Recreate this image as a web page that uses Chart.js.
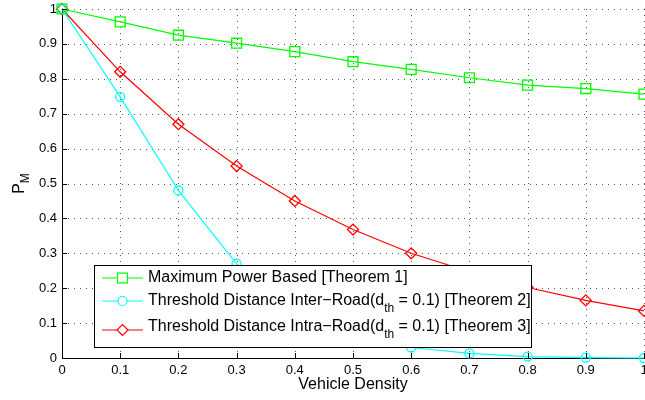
<!DOCTYPE html>
<html>
<head>
<meta charset="utf-8">
<script src="https://cdn.jsdelivr.net/npm/chart.js@4.4.0/dist/chart.umd.min.js"></script>
<style>
  html, body { margin: 0; padding: 0; background: #fff; }
  #wrap { width: 645px; height: 400px; position: relative; }
</style>
</head>
<body>
<div id="wrap"><canvas id="chart"></canvas></div>
<script>
const densities = [0, 0.1, 0.2, 0.3, 0.4, 0.5, 0.6, 0.7, 0.8, 0.9, 1];
const maxPower = [1, 0.963, 0.925, 0.902, 0.878, 0.849, 0.827, 0.803, 0.782, 0.772, 0.756];
const interRoad = [1, 0.748, 0.48, 0.27, 0.14, 0.068, 0.03, 0.013, 0.004, 0.001, 0];
const intraRoad = [1, 0.82, 0.67, 0.55, 0.45, 0.368, 0.30, 0.247, 0.202, 0.165, 0.135];
const legendLabels = [
  ['Maximum Power Based [Theorem 1]'],
  ['Threshold Distance Inter\u2212Road(d', 'th', ' = 0.1) [Theorem 2]'],
  ['Threshold Distance Intra\u2212Road(d', 'th', ' = 0.1) [Theorem 3]']
];

const FONT = '"Liberation Sans", Arial, Helvetica, sans-serif';

function series(values) {
  return values.map((v, i) => ({ x: densities[i], y: v }));
}

// dotted MATLAB grid under the data
const dottedGrid = {
  id: 'dottedGrid',
  beforeDatasetsDraw(chart) {
    const { ctx, chartArea: a, scales } = chart;
    ctx.save();
    ctx.strokeStyle = 'rgba(0,0,0,0.65)';
    ctx.lineWidth = 1;
    ctx.setLineDash([1, 5]);
    ctx.beginPath();
    scales.x.ticks.forEach(t => {
      if (t.value === 0) return;
      const px = Math.round(scales.x.getPixelForValue(t.value)) + 0.5;
      ctx.moveTo(px, a.bottom);
      ctx.lineTo(px, a.top);
    });
    scales.y.ticks.forEach(t => {
      if (t.value === 0) return;
      const py = Math.round(scales.y.getPixelForValue(t.value)) + 0.5;
      ctx.moveTo(a.left, py);
      ctx.lineTo(a.right + 2, py);
    });
    ctx.stroke();
    ctx.restore();
  }
};

// MATLAB-like extras: inward ticks, P_M label, legend with subscripts
const matlabExtras = {
  id: 'matlabExtras',
  afterDraw(chart) {
    const { ctx, chartArea: a, scales } = chart;
    ctx.save();
    ctx.strokeStyle = '#000';
    ctx.lineWidth = 1;
    ctx.beginPath();
    scales.x.ticks.forEach(t => {
      const px = Math.round(scales.x.getPixelForValue(t.value)) + 0.5;
      ctx.moveTo(px, a.bottom);
      ctx.lineTo(px, a.bottom - 5);
    });
    scales.y.ticks.forEach(t => {
      const py = Math.round(scales.y.getPixelForValue(t.value)) + 0.5;
      ctx.moveTo(a.left, py);
      ctx.lineTo(a.left + 5, py);
    });
    ctx.stroke();

    // y title P_M
    ctx.fillStyle = '#000';
    ctx.translate(24, (a.top + a.bottom) / 2);
    ctx.rotate(-Math.PI / 2);
    ctx.font = '16px ' + FONT;
    ctx.textBaseline = 'alphabetic';
    ctx.textAlign = 'left';
    const pw = ctx.measureText('P').width;
    ctx.font = '12px ' + FONT;
    const mw = ctx.measureText('M').width;
    const start = -(pw + mw) / 2;
    ctx.font = '16px ' + FONT;
    ctx.fillText('P', start, 0);
    ctx.font = '12px ' + FONT;
    ctx.fillText('M', start + pw, 5);
    ctx.restore();

    // legend box
    ctx.save();
    const bx = 94.5, by = 265.5, bw = 437, bh = 82;
    ctx.fillStyle = '#fff';
    ctx.fillRect(bx, by, bw, bh);
    ctx.strokeStyle = '#000';
    ctx.lineWidth = 1;
    ctx.strokeRect(bx, by, bw, bh);
    const rows = [278, 301, 330];
    chart.data.datasets.forEach((ds, i) => {
      const y = rows[i];
      ctx.strokeStyle = ds.borderColor;
      ctx.lineWidth = 1.2;
      ctx.beginPath();
      ctx.moveTo(102, y);
      ctx.lineTo(143, y);
      ctx.stroke();
      ctx.fillStyle = '#fff';
      Chart.helpers.drawPoint(ctx, {
        pointStyle: ds.pointStyle, radius: ds.pointRadius, borderWidth: 1.2
      }, 122.5, y);
      ctx.fillStyle = '#000';
      ctx.textBaseline = 'middle';
      ctx.textAlign = 'left';
      let tx = 148;
      const parts = legendLabels[i];
      const ty = i === 2 ? y - 3 : y;
      parts.forEach((p, k) => {
        if (k === 1) {
          ctx.font = '12px ' + FONT;
          ctx.fillText(p, tx, ty + 8);
        } else {
          ctx.font = '16px ' + FONT;
          ctx.fillText(p, tx, ty);
        }
        tx += ctx.measureText(p).width;
      });
    });
    ctx.restore();
  }
};

new Chart(document.getElementById('chart'), {
  type: 'line',
  data: {
    datasets: [{
      label: 'Maximum Power Based [Theorem 1]',
      data: series(maxPower),
      borderColor: '#00ff00',
      pointStyle: 'rect',
      pointRadius: 7
    }, {
      label: 'Threshold Distance Inter-Road(dth = 0.1) [Theorem 2]',
      data: series(interRoad),
      borderColor: '#00ffff',
      pointStyle: 'circle',
      pointRadius: 4.5
    }, {
      label: 'Threshold Distance Intra-Road(dth = 0.1) [Theorem 3]',
      data: series(intraRoad),
      borderColor: '#ff0000',
      pointStyle: 'rectRot',
      pointRadius: 5.5
    }].map(ds => Object.assign(ds, {
      backgroundColor: 'rgba(0,0,0,0)',
      borderWidth: 1.2,
      pointBorderWidth: 1.3,
      pointBorderColor: ds.borderColor,
      pointBackgroundColor: 'rgba(0,0,0,0)',
      tension: 0,
      clip: false
    }))
  },
  options: {
    responsive: true,
    maintainAspectRatio: false,
    animation: false,
    layout: { autoPadding: false, padding: { left: 0, right: 1, top: 9, bottom: 0 } },
    plugins: { legend: { display: false }, tooltip: { enabled: false } },
    scales: {
      x: {
        type: 'linear',
        min: 0,
        max: 1,
        afterFit(scale) { scale.height = 42; scale.paddingLeft = 0; scale.paddingRight = 0; },
        ticks: {
          stepSize: 0.1,
          padding: 5,
          color: '#000',
          font: { family: FONT, size: 13 },
          maxRotation: 0,
          callback: v => (Math.round(v * 10) / 10).toString()
        },
        grid: { drawOnChartArea: false, drawTicks: false },
        border: { display: true, color: '#000', width: 1 },
        title: {
          display: true,
          text: 'Vehicle Density',
          color: '#000',
          font: { family: FONT, size: 16 },
          padding: { top: 0, bottom: 6 }
        }
      },
      y: {
        min: 0,
        max: 1,
        afterFit(scale) { scale.width = 62; scale.paddingTop = 0; scale.paddingBottom = 0; },
        ticks: {
          stepSize: 0.1,
          padding: 5,
          color: '#000',
          font: { family: FONT, size: 13 },
          callback: v => (Math.round(v * 10) / 10).toString()
        },
        grid: { drawOnChartArea: false, drawTicks: false },
        border: { display: true, color: '#000', width: 1 }
      }
    }
  },
  plugins: [dottedGrid, matlabExtras]
});
</script>
</body>
</html>
